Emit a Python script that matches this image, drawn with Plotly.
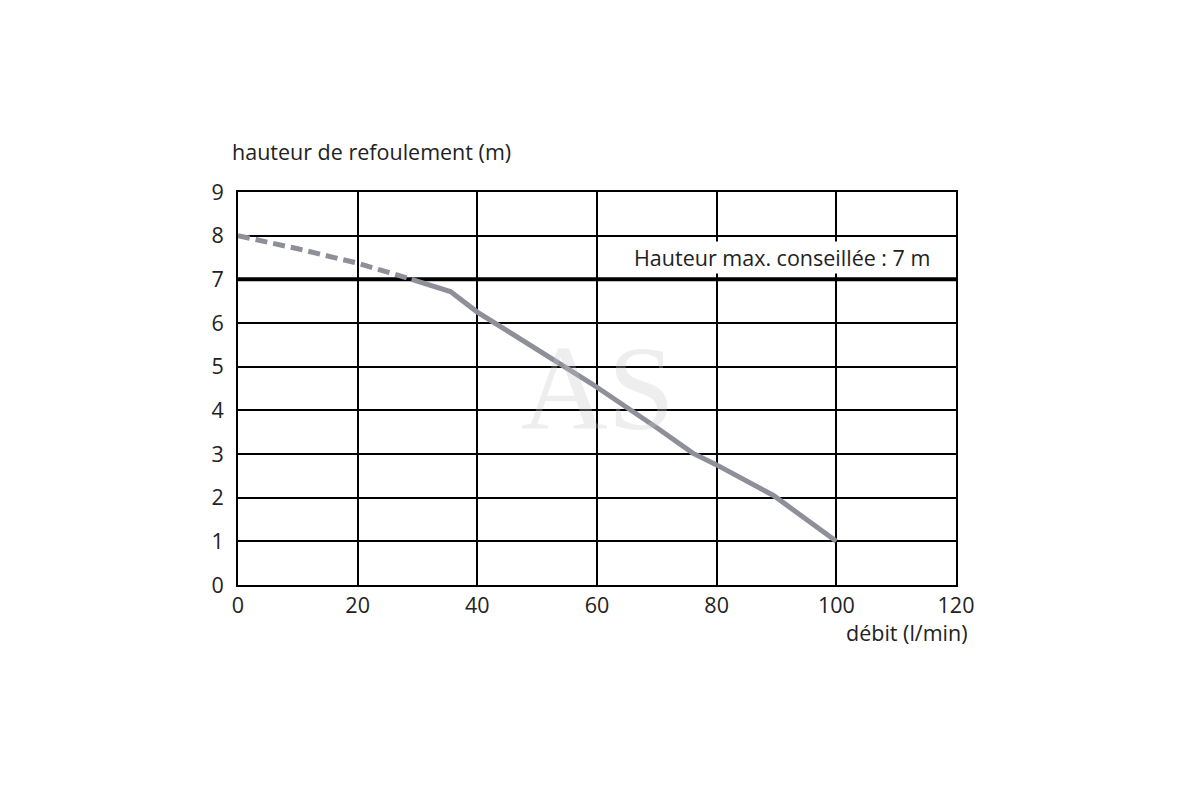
import plotly.graph_objects as go

# pump curve, dashed part (above the 7 m advised max)
dash_flow = [0, 10, 20, 29]
dash_head = [8.0, 7.7, 7.37, 7.0]

# pump curve, solid part
solid_flow = [29, 35.5, 40, 50, 59, 70, 76, 80, 89.5, 100]
solid_head = [7.0, 6.72, 6.25, 5.4, 4.62, 3.6, 3.02, 2.75, 2.05, 1.0]

max_head = 7
x_ticks = [0, 20, 40, 60, 80, 100, 120]
y_ticks = list(range(0, 10))

LINE_COLOR = "#8f8f99"
FONT = "Open Sans"
TXT = "#222"
FS = 21.5

fig = go.Figure()

fig.add_trace(go.Scatter(
    x=dash_flow, y=dash_head, mode="lines",
    line=dict(color=LINE_COLOR, width=5, dash="12px,6px"),
    showlegend=False,
))
fig.add_trace(go.Scatter(
    x=solid_flow, y=solid_head, mode="lines",
    line=dict(color=LINE_COLOR, width=5),
    showlegend=False,
))

# thick line at the advised max height
fig.add_shape(type="line", xref="x", yref="y", x0=0, x1=120, y0=max_head, y1=max_head,
              line=dict(color="black", width=4), layer="below")

fig.add_annotation(x=0.5, y=0.5, xref="paper", yref="paper", text="AS", showarrow=False,
                   font=dict(family="Liberation Serif", size=120, color="rgba(200,200,200,0.3)"))

fig.add_annotation(x=116, y=7.5, xref="x", yref="y", text="Hauteur max. conseillée : 7 m",
                   showarrow=False, xanchor="right", bgcolor="white", borderpad=1,
                   font=dict(family=FONT, size=FS, color=TXT))

fig.add_annotation(x=-0.011, y=1.06, xref="paper", yref="paper", text="hauteur de refoulement (m)",
                   showarrow=False, xanchor="left", yanchor="bottom",
                   font=dict(family=FONT, size=FS, color=TXT))
fig.add_annotation(x=1.019, y=-0.08, xref="paper", yref="paper", text="débit (l/min)",
                   showarrow=False, xanchor="right", yanchor="top",
                   font=dict(family=FONT, size=FS, color=TXT))

fig.update_xaxes(range=[0, 120], tickvals=x_ticks, showgrid=True, gridcolor="black", gridwidth=1.5,
                 zeroline=False, showline=True, linecolor="black", linewidth=2, mirror=True,
                 ticks="", tickfont=dict(family=FONT, size=FS, color=TXT))
fig.update_yaxes(range=[0, 9], tickvals=y_ticks, showgrid=True, gridcolor="black", gridwidth=1.5,
                 zeroline=False, showline=True, linecolor="black", linewidth=2, mirror=True,
                 ticks="outside", ticklen=8, tickcolor="white",
                 tickfont=dict(family=FONT, size=FS, color=TXT))

fig.update_layout(
    width=1200, height=800,
    margin=dict(l=230, r=252, t=184, b=223),
    plot_bgcolor="white", paper_bgcolor="white",
)

fig.write_html("out.html")
